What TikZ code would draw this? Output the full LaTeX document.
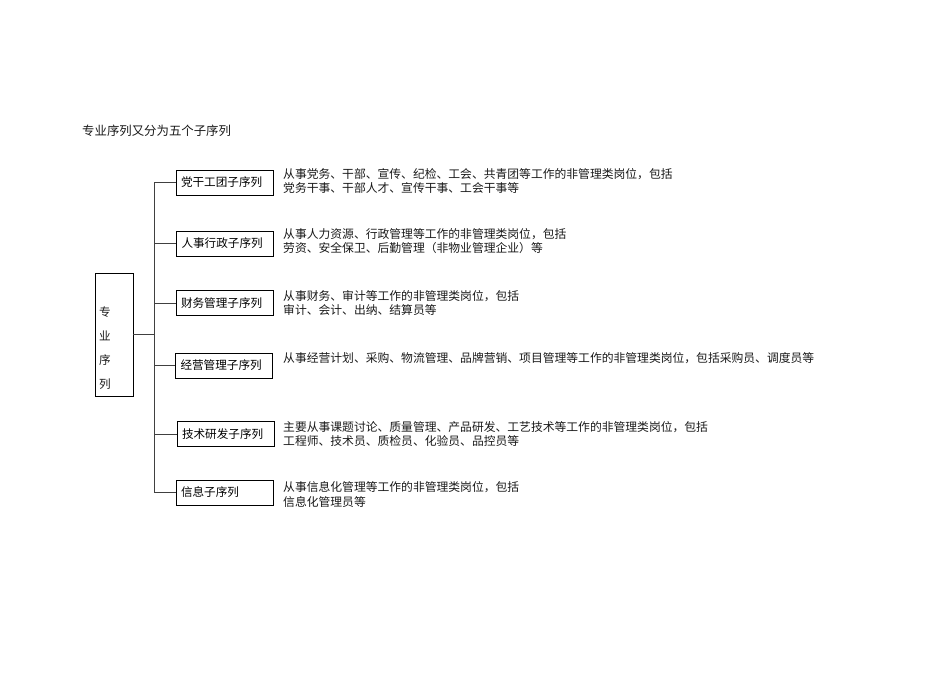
\documentclass[tikz,border=0pt]{standalone}
\usepackage{fontspec}
\setmainfont{Noto Sans CJK SC}
\begin{document}
\begin{tikzpicture}[x=1pt,y=-1pt,
  txt/.style={font=\fontsize{11.8}{14.5}\selectfont, inner sep=0pt, text=black!90},
  subbox/.style={draw=black, line width=0.95pt, minimum width=97pt, minimum height=25pt,
    text width=87pt, inner xsep=5pt, inner ysep=0pt, align=left,
    font=\fontsize{11.6}{14}\selectfont},
  desc/.style={txt, anchor=west, align=left},
  conn/.style={draw=black!75, line width=1pt}]
\useasboundingbox (0,0) rectangle (950,672);

\node[txt, anchor=west, font=\fontsize{12.4}{14}\selectfont] (title) at (82,131) {专业序列又分为五个子序列};

\node[draw=black, line width=0.95pt, minimum width=38pt, minimum height=123pt, inner sep=0pt] (main) at (114,334.5) {};
\node[txt, align=center, font=\fontsize{11.6}{24}\selectfont] (maintext) at (105,348) {专\\业\\序\\列};

\node[subbox] (b1) at (224.5,182.5) {党干工团子序列};
\node[subbox] (b2) at (225,243.5) {人事行政子序列};
\node[subbox] (b3) at (224.5,303) {财务管理子序列};
\node[subbox] (b4) at (224,365.5) {经营管理子序列};
\node[subbox] (b5) at (225.5,434) {技术研发子序列};
\node[subbox] (b6) at (224.5,492.5) {信息子序列};

\coordinate (trunk) at (154,332);

\draw[conn] (main.east) -- (main.east -| trunk);
\draw[conn] (b1.west -| trunk) -- (b6.west -| trunk);
\foreach \b in {b1,b2,b3,b4,b5,b6}{
  \draw[conn] (\b.west -| trunk) -- (\b.west);
}

\node[desc] (d1) at (283,181) {从事党务、干部、宣传、纪检、工会、共青团等工作的非管理类岗位，包括\\党务干事、干部人才、宣传干事、工会干事等};
\node[desc] (d2) at (283,241) {从事人力资源、行政管理等工作的非管理类岗位，包括\\劳资、安全保卫、后勤管理（非物业管理企业）等};
\node[desc] (d3) at (283,303) {从事财务、审计等工作的非管理类岗位，包括\\审计、会计、出纳、结算员等};
\node[desc] (d4) at (283,358) {从事经营计划、采购、物流管理、品牌营销、项目管理等工作的非管理类岗位，包括采购员、调度员等};
\node[desc] (d5) at (283,434) {主要从事课题讨论、质量管理、产品研发、工艺技术等工作的非管理类岗位，包括\\工程师、技术员、质检员、化验员、品控员等};
\node[desc] (d6) at (283,494.5) {从事信息化管理等工作的非管理类岗位，包括\\信息化管理员等};
\end{tikzpicture}
\end{document}
